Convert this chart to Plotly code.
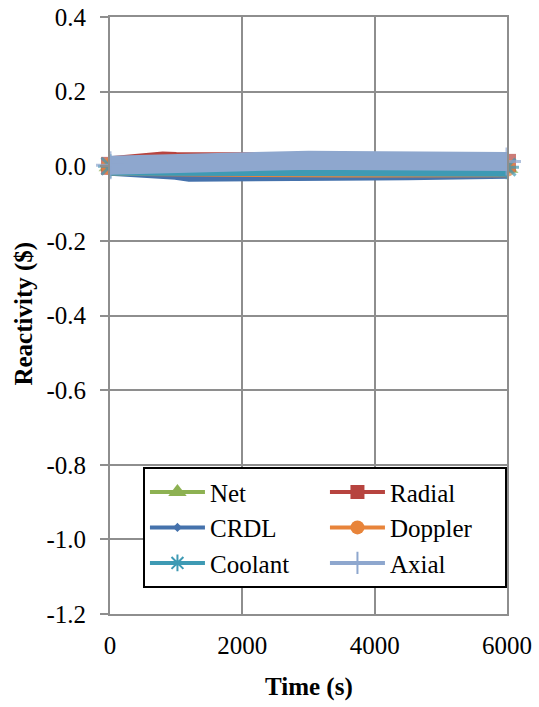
import plotly.graph_objects as go

# ---------------- data ----------------
time_s = [0, 200, 400, 600, 800, 1000, 1200, 1500, 2000, 2500, 3000, 3500, 4000, 4500, 5000, 5500, 6000]
net = [0.000, 0.001, 0.001, 0.001, 0.000, 0.000, -0.001, -0.001, -0.001, -0.002, -0.002, -0.002, -0.002, -0.003, -0.003, -0.004, -0.005]
radial = [0.001, 0.007, 0.009, 0.012, 0.014, 0.013, 0.013, 0.012, 0.012, 0.011, 0.011, 0.010, 0.010, 0.010, 0.009, 0.009, 0.009]
crdl = [0.000, 0.000, -0.001, -0.003, -0.008, -0.011, -0.016, -0.017, -0.0175, -0.0175, -0.017, -0.016, -0.013, -0.012, -0.009, -0.008, -0.008]
doppler = [0.000, -0.001, -0.002, -0.003, -0.004, -0.005, -0.005, -0.005, -0.005, -0.005, -0.005, -0.005, -0.005, -0.004, -0.004, -0.004, -0.004]
coolant = [0.000, 0.000, -0.001, -0.002, -0.003, -0.004, -0.0045, -0.0045, -0.0045, -0.0045, -0.0045, -0.0045, -0.004, -0.004, -0.003, -0.0025, -0.0025]
axial = [0.003, 0.004, 0.006, 0.009, 0.0115, 0.015, 0.017, 0.018, 0.018, 0.017, 0.016, 0.0155, 0.015, 0.0145, 0.014, 0.0135, 0.013]

series_names = ["Net", "Radial", "CRDL", "Doppler", "Coolant", "Axial"]
series_values = [net, radial, crdl, doppler, coolant, axial]

x_ticks = [0, 2000, 4000, 6000]
y_ticks = [0.4, 0.2, 0.0, -0.2, -0.4, -0.6, -0.8, -1.0, -1.2]

# ---------------- styles ----------------
colors = ["#8DB152", "#B7443F", "#4572AC", "#E8843A", "#3E9AB4", "#8EA7CE"]
symbols = ["triangle-up", "square", "diamond", "circle", "asterisk-open", "cross-thin-open"]
plot_marker_sizes = [20, 18, 10, 18, 20, 20]
legend_marker_sizes = [16, 14, 7, 14, 14, 16]
FONT = "Liberation Serif"
GRID = "#8E8E8E"

fig = go.Figure()

n_pts = len(time_s)
for name, vals, col, sym, ps in zip(series_names, series_values, colors, symbols, plot_marker_sizes):
    sizes = [ps] + [0] * (n_pts - 2) + [ps]
    open_sym = sym.endswith("-open")
    fig.add_trace(go.Scatter(
        x=time_s, y=vals, name=name, mode="lines+markers",
        line=dict(color=col, width=19),
        marker=dict(symbol=sym, size=sizes, color=col,
                    line=dict(color=col, width=3 if open_sym else 0)),
        showlegend=False, cliponaxis=False,
    ))

for name, col, sym, ls in zip(series_names, colors, symbols, legend_marker_sizes):
    open_sym = sym.endswith("-open")
    fig.add_trace(go.Scatter(
        x=[None], y=[None], name=name, mode="lines+markers",
        line=dict(color=col, width=4),
        marker=dict(symbol=sym, size=ls, color=col,
                    line=dict(color=col, width=2 if open_sym else 0)),
        showlegend=True,
    ))

fig.update_layout(
    width=539, height=707,
    margin=dict(l=110, r=32, t=17, b=93, autoexpand=False),
    paper_bgcolor="white", plot_bgcolor="white",
    font=dict(family=FONT, size=25, color="black"),
    showlegend=True,
    legend=dict(
        orientation="h", x=0.083, y=0.246, xanchor="left", yanchor="top",
        bgcolor="white", bordercolor="black", borderwidth=2,
        itemwidth=55, entrywidth=110, entrywidthmode="pixels", tracegroupgap=0,
        font=dict(family=FONT, size=25, color="black"),
        itemclick=False, itemdoubleclick=False,
    ),
    xaxis=dict(
        range=[0, 6000], tickvals=x_ticks, ticktext=[str(v) for v in x_ticks],
        showgrid=True, gridcolor=GRID, gridwidth=2, automargin=False,
        showline=True, linecolor=GRID, linewidth=2, mirror=True,
        ticks="", zeroline=False, ticklabelstandoff=8,
        tickfont=dict(family=FONT, size=25, color="black"),
    ),
    yaxis=dict(
        range=[-1.2, 0.4], tickvals=y_ticks, ticktext=[f"{v:.1f}" for v in y_ticks],
        showgrid=True, gridcolor=GRID, gridwidth=2, automargin=False,
        showline=True, linecolor=GRID, linewidth=2, mirror=True,
        ticks="outside", ticklen=8, tickwidth=2, tickcolor=GRID,
        zeroline=False, ticklabelstandoff=9,
        tickfont=dict(family=FONT, size=25, color="black"),
    ),
    annotations=[
        dict(text="Time (s)", xref="paper", yref="paper", x=0.5, y=-0.123,
             xanchor="center", yanchor="middle", showarrow=False,
             font=dict(family=FONT, size=25, color="black", weight="bold")),
        dict(text="Reactivity ($)", xref="paper", yref="paper", x=-0.217, y=0.503,
             xanchor="center", yanchor="middle", showarrow=False, textangle=-90,
             font=dict(family=FONT, size=25, color="black", weight="bold")),
    ],
)

fig.write_html("out.html")
